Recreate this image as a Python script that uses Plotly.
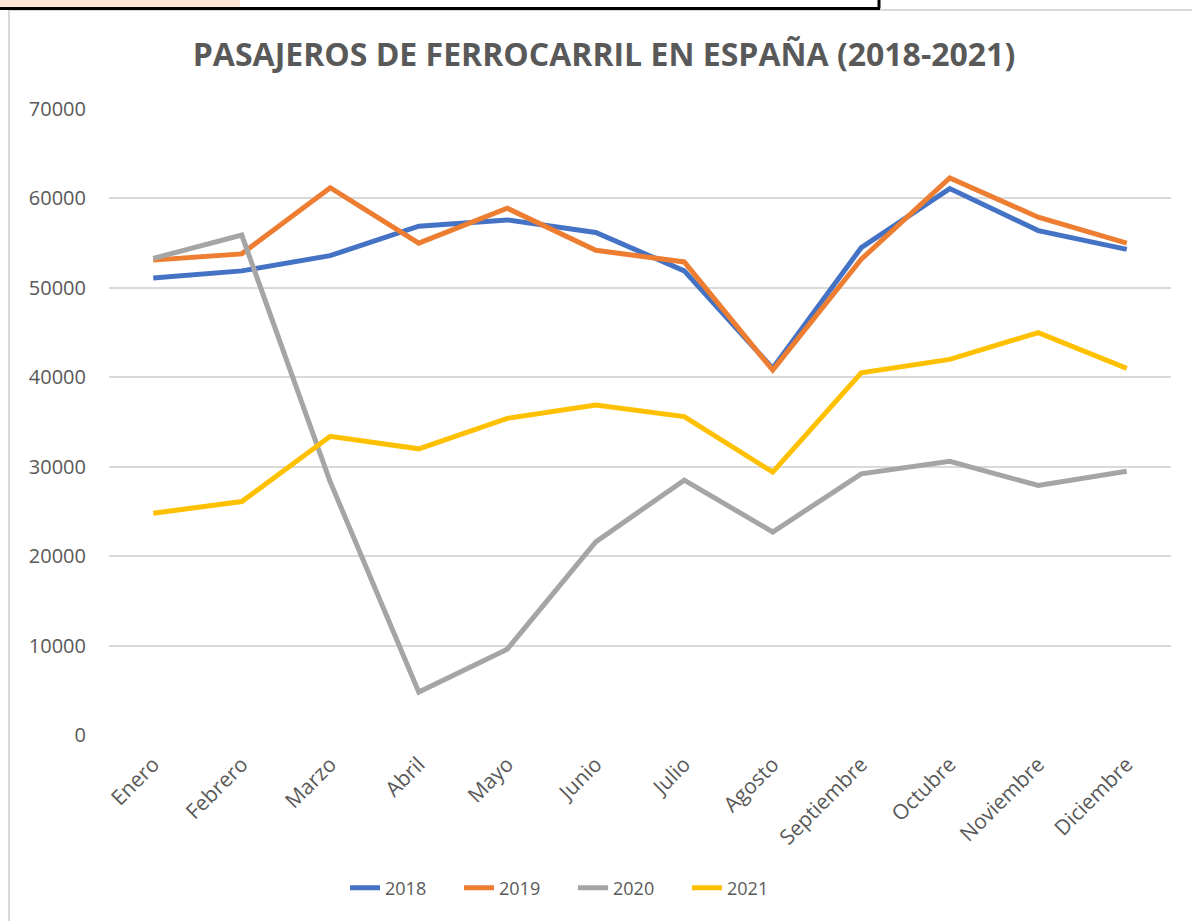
import plotly.graph_objects as go

meses = ["Enero", "Febrero", "Marzo", "Abril", "Mayo", "Junio", "Julio",
         "Agosto", "Septiembre", "Octubre", "Noviembre", "Diciembre"]
v2018 = [51100, 51900, 53600, 56900, 57600, 56200, 51900, 41000, 54500, 61100, 56400, 54300]
v2019 = [53100, 53800, 61200, 55000, 58900, 54200, 52900, 40800, 53200, 62300, 57900, 55000]
v2020 = [53300, 55900, 28300, 4800, 9600, 21600, 28500, 22700, 29200, 30600, 27900, 29500]
v2021 = [24800, 26100, 33400, 32000, 35400, 36900, 35600, 29400, 40500, 42000, 45000, 41000]
series = [("2018", v2018, "#4472C4"), ("2019", v2019, "#ED7D31"),
          ("2020", v2020, "#A5A5A5"), ("2021", v2021, "#FFC000")]

W, H = 1192, 921
L, R, T, B = 109, 21, 109, 186
pw, ph = W - L - R, H - T - B

def px(x):
    return (x - L) / pw

def py(y):
    return (H - B - y) / ph

fig = go.Figure()
for name, vals, col in series:
    fig.add_trace(go.Scatter(x=meses, y=vals, name=name, mode="lines",
                             line=dict(color=col, width=5)))

shapes = [
    dict(type="rect", xref="paper", yref="paper", x0=px(-2), x1=px(240), y0=py(7), y1=py(-2),
         fillcolor="#FCE4D6", line=dict(width=0), layer="below"),
    dict(type="line", xref="paper", yref="paper", x0=px(9), x1=px(9), y0=py(10), y1=py(925),
         line=dict(color="#D9D9D9", width=2)),
    dict(type="line", xref="paper", yref="paper", x0=px(9), x1=px(1195), y0=py(10), y1=py(10),
         line=dict(color="#D9D9D9", width=2)),
    dict(type="line", xref="paper", yref="paper", x0=px(-2), x1=px(880), y0=py(8.5), y1=py(8.5),
         line=dict(color="#000000", width=3)),
    dict(type="line", xref="paper", yref="paper", x0=px(879), x1=px(879), y0=py(-2), y1=py(8.5),
         line=dict(color="#000000", width=3)),
]

fig.update_layout(
    width=W, height=H,
    margin=dict(l=L, r=R, t=T, b=B, autoexpand=False),
    paper_bgcolor="white", plot_bgcolor="white",
    font=dict(family="Open Sans, DejaVu Sans, sans-serif", color="#595959"),
    title=dict(text="<b>PASAJEROS DE FERROCARRIL EN ESPAÑA (2018-2021)</b>",
               x=604 / W, xref="container", xanchor="center",
               y=1 - 55 / H, yanchor="middle",
               font=dict(size=32, color="#595959")),
    xaxis=dict(showgrid=False, showline=False, zeroline=False, ticks="",
               range=[-0.5, 11.5], tickangle=-45, ticklabelstandoff=12,
               tickfont=dict(size=21, color="#595959")),
    yaxis=dict(range=[0, 70000], dtick=10000, showgrid=True, gridcolor="#D9D9D9",
               gridwidth=1.5, zeroline=False, showline=False, ticks="",
               tickformat="d", ticklabelstandoff=22,
               tickfont=dict(size=20, color="#595959")),
    legend=dict(orientation="h", x=px(345), xanchor="left", y=py(888), yanchor="middle",
                font=dict(size=18, color="#595959"), entrywidth=69, entrywidthmode="pixels"),
    shapes=shapes,
)

fig.write_html("out.html", config={"displayModeBar": False},
               post_script="document.body.style.margin='0';document.body.style.padding='0';")
